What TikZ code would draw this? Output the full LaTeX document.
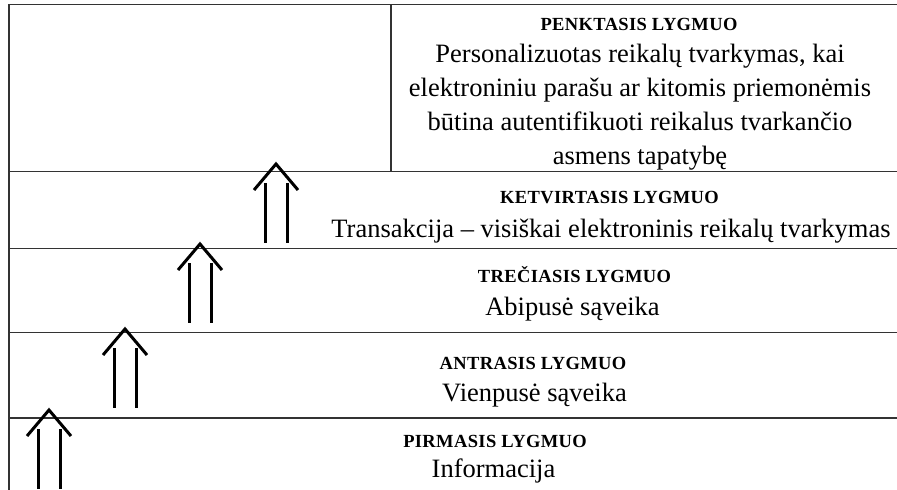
\documentclass[tikz,border=0pt]{standalone}
\usepackage{fontspec}
\setmainfont{Liberation Serif}
\begin{document}
\begin{tikzpicture}[x=1pt,y=-1pt,
  rule/.style={draw=black!80, line width=1.8pt},
  arr/.style={draw=black, line width=3pt, line join=miter},
  ttl/.style={font=\fontsize{18.5}{20}\selectfont\bfseries\addfontfeatures{LetterSpace=2}, anchor=base, inner sep=0pt},
  bodytxt/.style={font=\fontsize{26.5}{34}\selectfont, anchor=base, inner sep=0pt},
  uparr/.pic={
    \draw[arr] (-22,26) -- (0,0) -- (22,26);
    \draw[arr] (-11,19) -- (-11,79);
    \draw[arr] (11,19) -- (11,79);
  }]
\useasboundingbox (0,0) rectangle (897,490);
% frame and level rules
\draw[rule] (9,490) -- (9,4.5) -- (897,4.5);
\draw[rule] (391,4.5) -- (391,171.5);
\draw[rule] (9,171.5) -- (897,171.5);
\draw[rule] (9,248.5) -- (897,248.5);
\draw[rule] (9,332.5) -- (897,332.5);
\draw[rule] (9,418) -- (897,418);
% arrows
\pic at (49,410) {uparr};
\pic at (125,329) {uparr};
\pic at (200,244) {uparr};
\pic at (276,164) {uparr};
% level 5
\node[ttl] (t5) at (639,30) {PENKTASIS LYGMUO};
\node[bodytxt] (b5a) at (640,62) {Personalizuotas reikalų tvarkymas, kai};
\node[bodytxt] (b5b) at (640,96) {elektroniniu parašu ar kitomis priemonėmis};
\node[bodytxt] (b5c) at (640,130) {būtina autentifikuoti reikalus tvarkančio};
\node[bodytxt] (b5d) at (640,164) {asmens tapatybę};
% level 4
\node[ttl] (t4) at (609.5,203) {KETVIRTASIS LYGMUO};
\node[bodytxt] (b4) at (611,237) {Transakcija – visiškai elektroninis reikalų tvarkymas};
% level 3
\node[ttl] (t3) at (574.5,282) {TREČIASIS LYGMUO};
\node[bodytxt] (b3) at (572.5,315) {Abipusė sąveika};
% level 2
\node[ttl] (t2) at (533,369) {ANTRASIS LYGMUO};
\node[bodytxt] (b2) at (534.5,401) {Vienpusė sąveika};
% level 1
\node[ttl] (t1) at (495,447) {PIRMASIS LYGMUO};
\node[bodytxt] (b1) at (493.5,477) {Informacija};
\end{tikzpicture}
\end{document}
